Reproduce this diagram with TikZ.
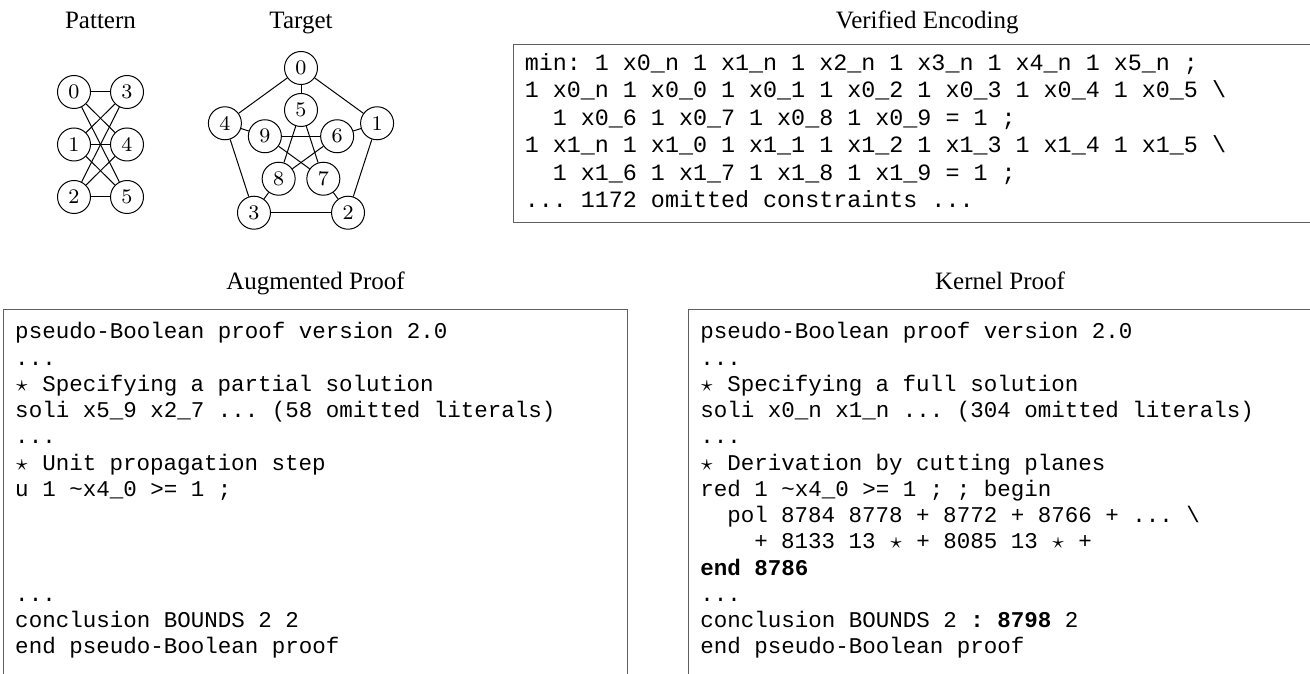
\documentclass[tikz,border=0pt]{standalone}
\usepackage{fontspec}
\newfontfamily\titlefont{Liberation Serif}
\newfontfamily\codefont{Liberation Mono}
\usepackage{tikz}
\usetikzlibrary{positioning,calc}
\definecolor{framegray}{RGB}{95,95,95}
\newcommand{\pbstar}{\makebox[0.6em]{$\star$}}

\begin{document}
\begin{tikzpicture}[
            x=0.4pt, y=0.4pt,
            node distance=2pt,
            vertex/.style={circle, draw, minimum size=13.2pt, inner sep=0pt,
                        font=\fontsize{8.3}{10}\selectfont},
            heading/.style={inner sep=2pt, text height=7pt, text depth=2.2pt,
                        font=\titlefont\fontsize{10}{12}\selectfont},
            codebox/.style={rectangle, draw=framegray, anchor=north west, align=left,
                        inner xsep=4.7pt,
                        execute at begin node={\spaceskip=0.6em\relax\xspaceskip=0.6em\relax}},
            encbox/.style={codebox, inner ysep=2.7pt,
                        font=\codefont\fontsize{9.35}{11}\selectfont},
            proofbox/.style={codebox, inner ysep=4.4pt,
                        font=\codefont\fontsize{9}{10.5}\selectfont}
        ]
            \useasboundingbox (0,0) rectangle (1310,673);
            \clip (0,0) rectangle (1310,673);

            \node[heading] (pattitle) at (100.5,650) {Pattern};
            \node[vertex] (p0) at (74,581) {0};
            \node[vertex] (p1) at (74,528.5) {1};
            \node[vertex] (p2) at (74,476) {2};
            \node[vertex] (p3) at (127,581) {3};
            \node[vertex] (p4) at (127,528.5) {4};
            \node[vertex] (p5) at (127,476) {5};

            \draw (p0) -- (p3);
            \draw (p1) -- (p4);
            \draw (p2) -- (p5);
            \draw (p0) -- (p4);
            \draw (p0) -- (p5);
            \draw (p1) -- (p3);
            \draw (p1) -- (p5);
            \draw (p2) -- (p3);
            \draw (p2) -- (p4);

            \coordinate (tc) at (301,525);
            \node[heading] (tgttitle) at (301,650) {Target};
            \node[vertex] (t0) at ($(tc)+(90:80)$) {0};
            \node[vertex] (t1) at ($(tc)+(18:80)$) {1};
            \node[vertex] (t2) at ($(tc)+(-54:80)$) {2};
            \node[vertex] (t3) at ($(tc)+(-126:80)$) {3};
            \node[vertex] (t4) at ($(tc)+(162:80)$) {4};
            \node[vertex] (t5) at ($(tc)+(90:38)$) {5};
            \node[vertex] (t6) at ($(tc)+(18:38)$) {6};
            \node[vertex] (t7) at ($(tc)+(-54:38)$) {7};
            \node[vertex] (t8) at ($(tc)+(-126:38)$) {8};
            \node[vertex] (t9) at ($(tc)+(162:38)$) {9};

            \draw (t0) -- (t1);
            \draw (t1) -- (t2);
            \draw (t2) -- (t3);
            \draw (t3) -- (t4);
            \draw (t4) -- (t0);
            \draw (t0) -- (t5);
            \draw (t1) -- (t6);
            \draw (t2) -- (t7);
            \draw (t3) -- (t8);
            \draw (t4) -- (t9);
            \draw (t5) -- (t7);
            \draw (t7) -- (t9);
            \draw (t9) -- (t6);
            \draw (t6) -- (t8);
            \draw (t8) -- (t5);

            \node[encbox, text width=322pt] (encoding) at (512.5,629) {\strut
                min: 1 x0\_n 1 x1\_n 1 x2\_n 1 x3\_n 1 x4\_n 1 x5\_n ;\\
                1 x0\_n 1 x0\_0 1 x0\_1 1 x0\_2 1 x0\_3 1 x0\_4 1 x0\_5 \textbackslash\\
                ~~1 x0\_6 1 x0\_7 1 x0\_8 1 x0\_9 = 1 ;\\
                1 x1\_n 1 x1\_0 1 x1\_1 1 x1\_2 1 x1\_3 1 x1\_4 1 x1\_5 \textbackslash\\
                ~~1 x1\_6 1 x1\_7 1 x1\_8 1 x1\_9 = 1 ;\\
                ... 1172 omitted constraints ...\strut};
            \node[heading, above=1.7pt of encoding] (enctitle) {Verified Encoding};

            \node[proofbox, text width=240.2pt] (augmented) at (3,364) {\strut
                pseudo-Boolean proof version 2.0\\
                ...\\
                \pbstar{} Specifying a partial solution\\
                soli x5\_9 x2\_7 ... (58 omitted literals)\\
                ...\\
                \pbstar{} Unit propagation step\\
                u 1 \textasciitilde x4\_0 >= 1 ;\\
                \strut\\
                \strut\\
                \strut\\
                ...\\
                conclusion BOUNDS 2 2\\
                end pseudo-Boolean proof\\
                \strut};
            \node[heading, above=3.3pt of augmented] (augtitle) {Augmented Proof};

            \node[proofbox, text width=246pt] (kernel) at (688,364) {\strut
                pseudo-Boolean proof version 2.0\\
                ...\\
                \pbstar{} Specifying a full solution\\
                soli x0\_n x1\_n ... (304 omitted literals)\\
                ...\\
                \pbstar{} Derivation by cutting planes\\
                red 1 \textasciitilde x4\_0 >= 1 ; ; begin\\
                ~~pol 8784 8778 + 8772 + 8766 + ... \textbackslash\\
                ~~~~+ 8133 13 \pbstar{} + 8085 13 \pbstar{} +\\
                {\bfseries end 8786}\\
                ...\\
                conclusion BOUNDS 2 {\bfseries : 8798} 2\\
                end pseudo-Boolean proof\\
                \strut};
            \node[heading] (kertitle) at (augtitle -| 1000,0) {Kernel Proof};
        \end{tikzpicture}
\end{document}
